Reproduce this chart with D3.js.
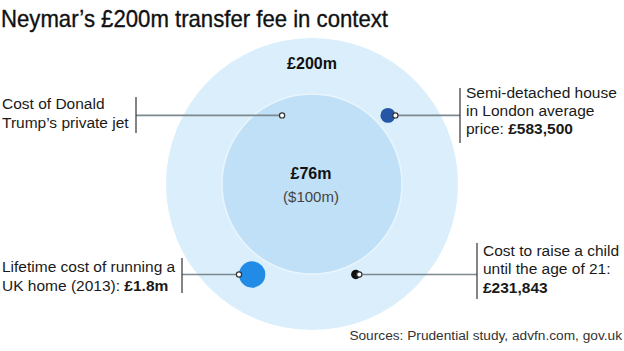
<!DOCTYPE html>
<html><head><meta charset="utf-8">
<script src="https://cdn.jsdelivr.net/npm/d3@7"></script>
<style>
html,body{margin:0;padding:0;background:#fff;}
svg{display:block;font-family:"Liberation Sans",Arial,Helvetica,sans-serif;}
</style></head>
<body>
<svg id="c" width="624" height="351"></svg>
<script>
// ---- data ----
const title = "Neymar’s £200m transfer fee in context";
const bigNames = ["Neymar transfer fee", "Donald Trump's private jet"];
const bigValues = [200, 76];               // £m
const bigLabels = ["£200m", "£76m"];
const bigSubLabels = ["", "($100m)"];
const itemNames = ["Semi-detached house", "Lifetime cost of running a UK home", "Cost to raise a child"];
const itemValues = [0.5835, 1.8, 0.231843]; // £m
const itemColors = ["#2657a6", "#228be6", "#111111"];
const source = "Sources: Prudential study, advfn.com, gov.uk";

// ---- layout ----
const W = 624, H = 351;
const cx = 312, cy = 184, R = 146;
const svg = d3.select("#c");
const r = d3.scaleSqrt().domain([0, 200]).range([0, R]);
// positions in units of outer radius (layout only)
const itemPos = [[0.52, -0.47], [-0.41, 0.62], [0.30, 0.62]];
const px = d3.scaleLinear().domain([-1, 1]).range([cx - R, cx + R]);
const py = d3.scaleLinear().domain([-1, 1]).range([cy - R, cy + R]);

// title
svg.append("text").attr("x", 1).attr("y", 27).attr("font-size", 24)
  .attr("fill", "#111").attr("stroke", "#111").attr("stroke-width", 0.35)
  .attr("textLength", 387).attr("lengthAdjust", "spacingAndGlyphs")
  .text(title);

// big circles
svg.append("circle").attr("cx", cx).attr("cy", cy).attr("r", r(bigValues[0])).attr("fill", "#daeefb");
svg.append("circle").attr("cx", cx).attr("cy", cy).attr("r", r(bigValues[1]))
  .attr("fill", "#bfe0f6").attr("stroke", "#e9f5fd").attr("stroke-width", 1.5);

svg.append("text").attr("x", cx).attr("y", 69).attr("text-anchor", "middle")
  .attr("font-size", 16).attr("font-weight", "bold").attr("fill", "#111").text(bigLabels[0]);
svg.append("text").attr("x", cx - 1).attr("y", 179).attr("text-anchor", "middle")
  .attr("font-size", 16).attr("font-weight", "bold").attr("fill", "#111").text(bigLabels[1]);
svg.append("text").attr("x", cx - 1).attr("y", 202).attr("text-anchor", "middle")
  .attr("font-size", 15).attr("fill", "#444").text(bigSubLabels[1]);

// item circles
const items = itemNames.map((n, i) => ({n, v: itemValues[i], c: itemColors[i], x: px(itemPos[i][0]), y: py(itemPos[i][1])}));
svg.selectAll("circle.item").data(items).join("circle").attr("class", "item")
  .attr("cx", d => d.x).attr("cy", d => d.y).attr("r", d => r(d.v) * 0.95).attr("fill", d => d.c);

// leaders
const lineCol = "#7d8990";
function leader(x1, y, x2, barY1, barY2, mx) {
  svg.append("line").attr("x1", x1).attr("x2", x2).attr("y1", y).attr("y2", y)
    .attr("stroke", lineCol).attr("stroke-width", 1.6);
  svg.append("line").attr("x1", x2).attr("x2", x2).attr("y1", barY1).attr("y2", barY2)
    .attr("stroke", "#333").attr("stroke-width", 1.2);
  svg.append("circle").attr("cx", mx).attr("cy", y).attr("r", 2.6)
    .attr("fill", "#fff").attr("stroke", "#333").attr("stroke-width", 1.2);
}
// jet (inner circle)
leader(px(-0.205), py(-0.47), 136, 97, 133, px(-0.205));
// house
const h = items[0];
leader(h.x + r(h.v) * 0.95, h.y, 460, 88, 143, h.x + r(h.v) * 0.95);
// home
const hm = items[1];
leader(hm.x - r(hm.v) * 0.95, hm.y, 182, 258, 293, hm.x - r(hm.v) * 0.95);
// child
const ch = items[2];
leader(ch.x + 3.5, ch.y, 477, 243, 299, ch.x + 3.5);

// labels
function label(x, ys, lines) {
  lines.forEach((parts, i) => {
    const t = svg.append("text").attr("x", x).attr("y", ys[i]).attr("font-size", 15.5).attr("fill", "#1a1a1a");
    parts.forEach(p => t.append("tspan").attr("font-weight", p.b ? "bold" : null).text(p.t));
  });
}
label(2, [109, 128], [[{t: "Cost of Donald"}], [{t: "Trump’s private jet"}]]);
label(2, [272, 291], [[{t: "Lifetime cost of running a"}], [{t: "UK home (2013): "}, {t: "£1.8m", b: 1}]]);
label(466, [98, 116, 134], [[{t: "Semi-detached house"}], [{t: "in London average"}], [{t: "price: "}, {t: "£583,500", b: 1}]]);
label(483, [256, 274, 293], [[{t: "Cost to raise a child"}], [{t: "until the age of 21:"}], [{t: "£231,843", b: 1}]]);

svg.append("text").attr("x", 622).attr("y", 340).attr("text-anchor", "end")
  .attr("font-size", 13.7).attr("fill", "#333").text(source);
</script>
</body></html>
